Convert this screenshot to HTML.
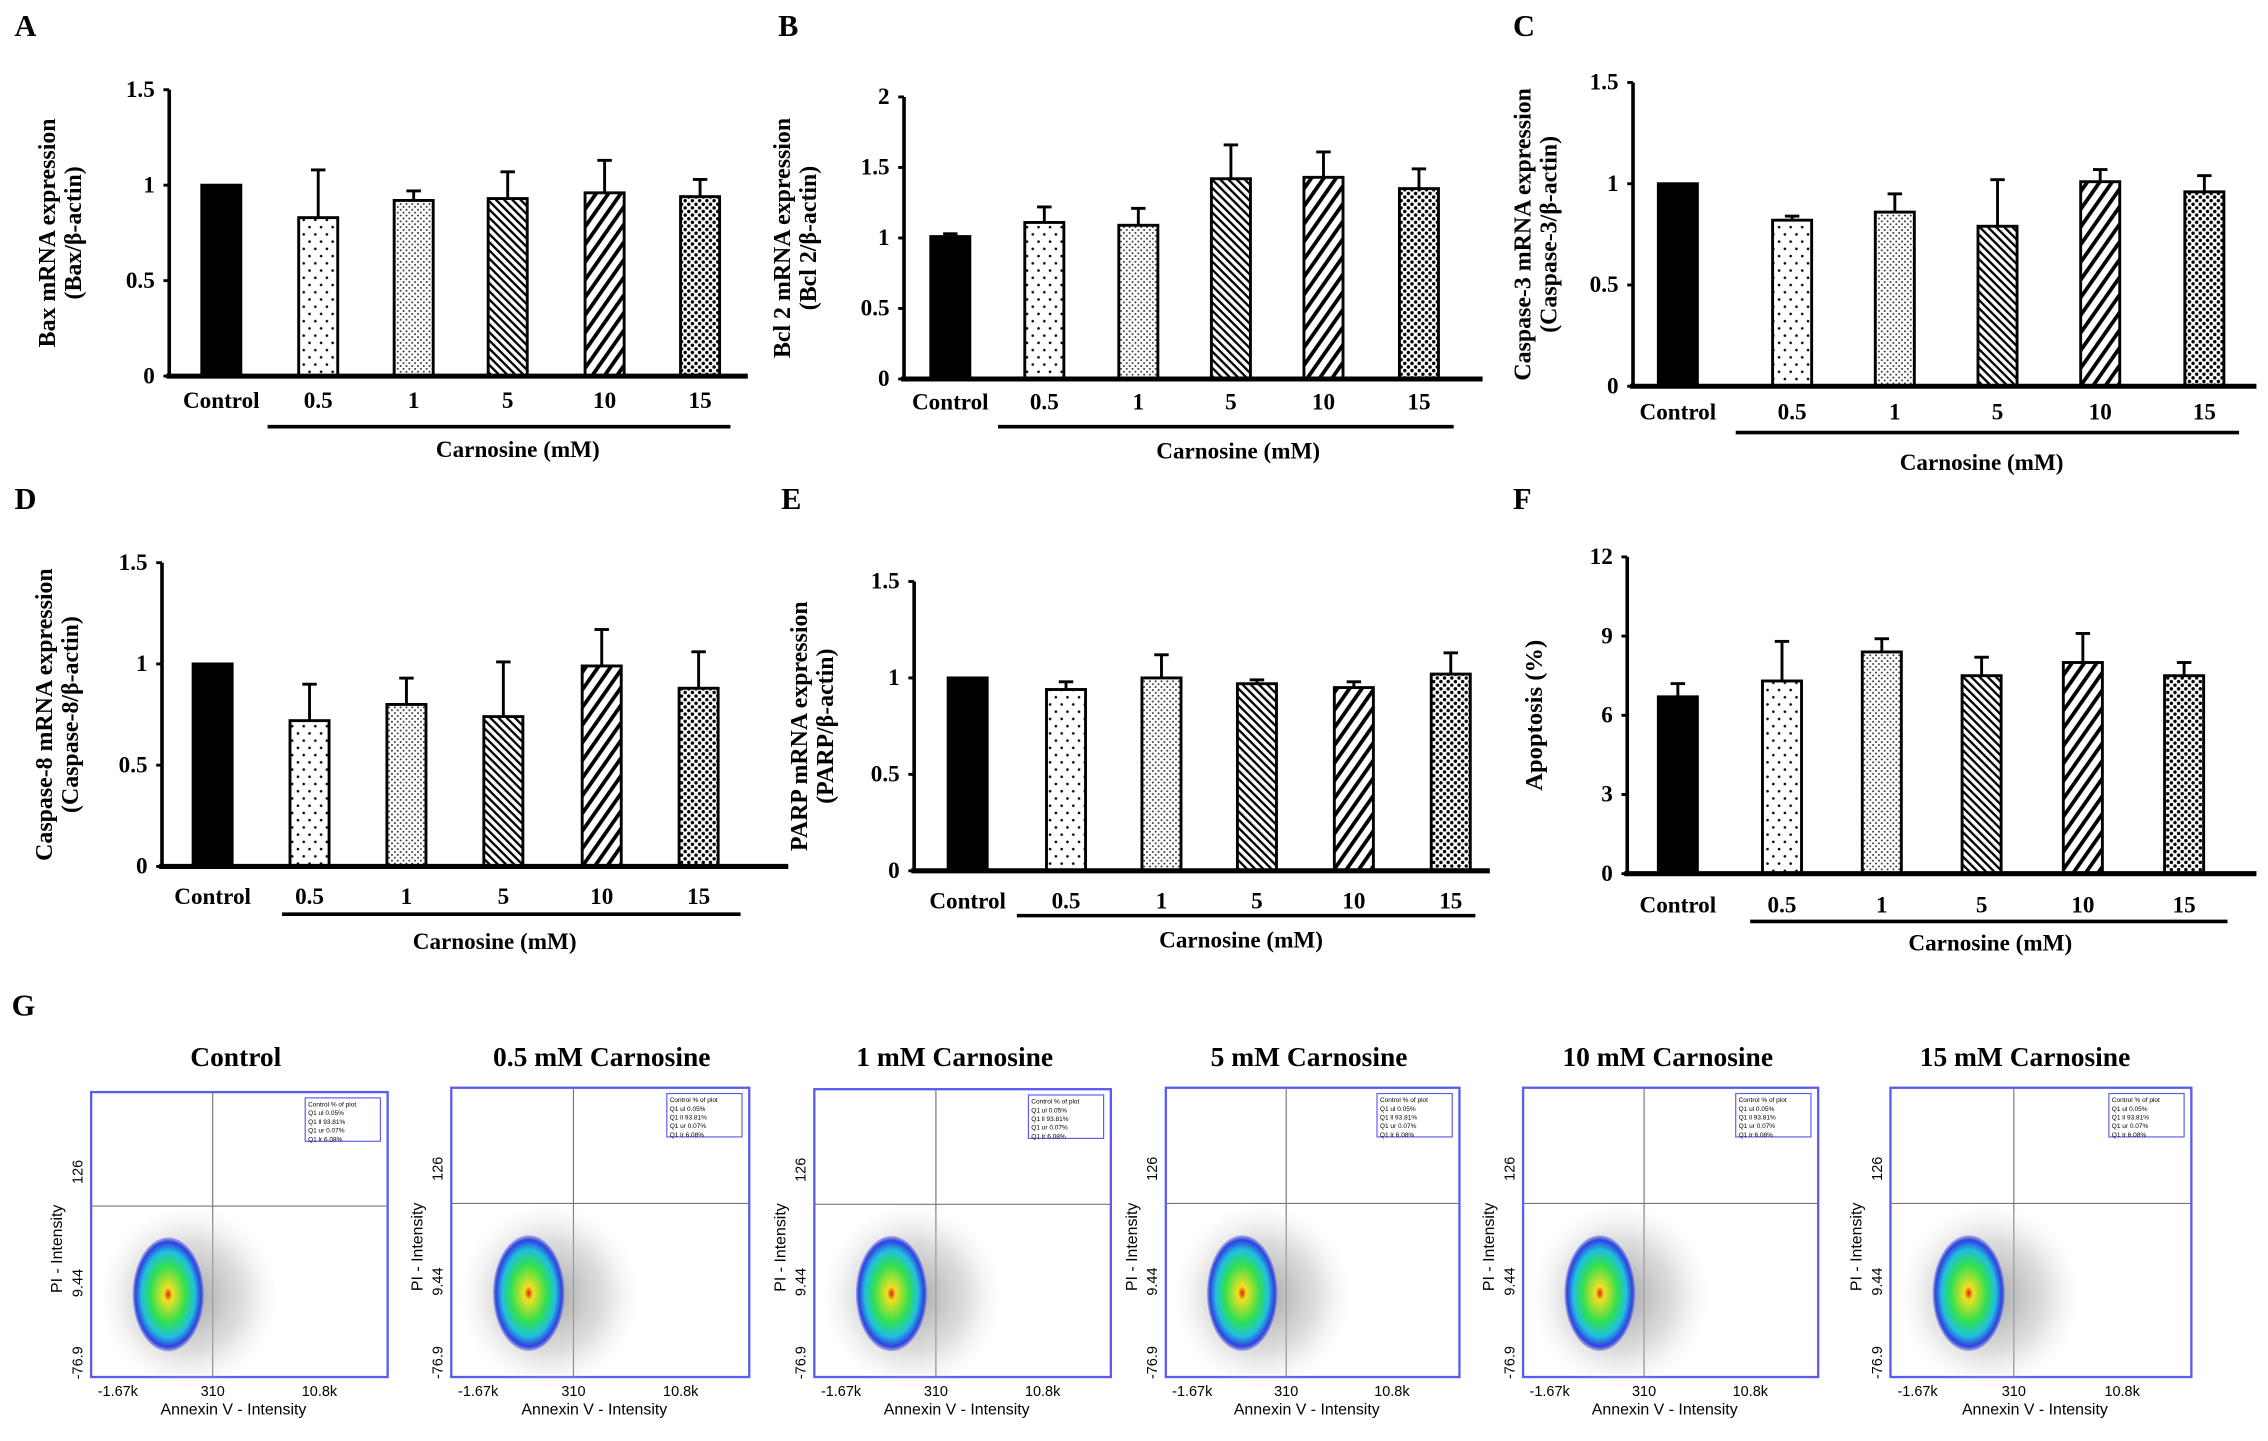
<!DOCTYPE html>
<html><head><meta charset="utf-8"><style>
html,body{margin:0;padding:0;background:#fff;}
svg{display:block;}
text{font-family:"Liberation Serif",serif;font-weight:bold;fill:#000;}
.sans{font-family:"Liberation Sans",sans-serif;font-weight:normal;}
</style></head><body>
<svg id="fig" width="2268" height="1441" viewBox="0 0 1568 996.2" xmlns="http://www.w3.org/2000/svg">
<defs>
<pattern id="p1" width="8" height="10" patternUnits="userSpaceOnUse"><rect width="8" height="10" fill="#fff"/><circle cx="2" cy="2" r="0.9" fill="#000"/><circle cx="6" cy="7" r="0.9" fill="#000"/></pattern>
<pattern id="p2" width="4" height="4" patternUnits="userSpaceOnUse"><rect width="4" height="4" fill="#fff"/><circle cx="1" cy="1" r="0.7" fill="#333"/><circle cx="3" cy="3" r="0.7" fill="#333"/></pattern>
<pattern id="p3" width="4" height="4" patternUnits="userSpaceOnUse" patternTransform="rotate(-45)"><rect width="4" height="4" fill="#fff"/><rect width="1.6" height="4" fill="#000"/></pattern>
<pattern id="p4" width="7" height="7" patternUnits="userSpaceOnUse" patternTransform="rotate(35)"><rect width="7" height="7" fill="#fff"/><rect width="2.6" height="7" fill="#000"/></pattern>
<pattern id="p5" width="5" height="5" patternUnits="userSpaceOnUse"><rect width="5" height="5" fill="#fff"/><circle cx="1.2" cy="1.2" r="1.2" fill="#000"/><circle cx="3.7" cy="3.7" r="1.2" fill="#000"/></pattern>
<radialGradient id="grey" cx="50%" cy="50%" r="50%"><stop offset="0" stop-color="#999" stop-opacity="0.9"/><stop offset="0.6" stop-color="#bbb" stop-opacity="0.5"/><stop offset="1" stop-color="#ddd" stop-opacity="0"/></radialGradient>
<radialGradient id="heat" cx="50%" cy="50%" r="50%"><stop offset="0" stop-color="#e02010"/><stop offset="0.12" stop-color="#f0e020"/><stop offset="0.5" stop-color="#30e050"/><stop offset="0.75" stop-color="#20c0e0"/><stop offset="0.92" stop-color="#3040e0"/><stop offset="1" stop-color="#3040e0" stop-opacity="0.3"/></radialGradient>
</defs>
</svg>
<script>
const categories=["Control","0.5","1","5","10","15"];
const valsA=[1,0.83,0.92,0.93,0.96,0.94], errA=[0,0.25,0.05,0.14,0.17,0.09];
const valsB=[1.01,1.11,1.09,1.42,1.43,1.35], errB=[0.02,0.11,0.12,0.24,0.18,0.14];
const valsC=[1,0.82,0.86,0.79,1.01,0.96], errC=[0,0.02,0.09,0.23,0.06,0.08];
const valsD=[1,0.72,0.80,0.74,0.99,0.88], errD=[0,0.18,0.13,0.27,0.18,0.18];
const valsE=[1,0.94,1.0,0.97,0.95,1.02], errE=[0,0.04,0.12,0.02,0.03,0.11];
const valsF=[6.7,7.3,8.4,7.5,8.0,7.5], errF=[0.5,1.5,0.5,0.7,1.1,0.5];
const ticks15=["0","0.5","1","1.5"], ticks2=["0","0.5","1","1.5","2"], ticks12=["0","3","6","9","12"];
const flowTitles=["Control","0.5 mM Carnosine","1 mM Carnosine","5 mM Carnosine","10 mM Carnosine","15 mM Carnosine"];

const NS="http://www.w3.org/2000/svg";
const svg=document.getElementById('fig');
function el(tag,attrs,parent,txt){const e=document.createElementNS(NS,tag);for(const k in attrs)e.setAttribute(k,attrs[k]);if(txt!==undefined)e.textContent=txt;(parent||svg).appendChild(e);return e;}
const fills=["#000","url(#p1)","url(#p2)","url(#p3)","url(#p4)","url(#p5)"];

const panels=[
 {id:"a",letter:"A",lx:10,ly:25,ax:117,top:62,zero:260,right:517,max:1.5,ticks:ticks15,bars:[153,220,286,351,418,484],vals:valsA,err:errA,cy:282,line:[185,505,295],cx:358,ccy:316,t1:"Bax mRNA expression",t2:"(Bax/β-actin)",tx:38},
 {id:"b",letter:"B",lx:538,ly:25,ax:625,top:67,zero:262,right:1025,max:2,ticks:ticks2,bars:[657,722,787,851,915,981],vals:valsB,err:errB,cy:283,line:[690,1005,295],cx:856,ccy:317,t1:"Bcl 2 mRNA expression",t2:"(Bcl 2/β-actin)",tx:546},
 {id:"c",letter:"C",lx:1046,ly:25,ax:1129,top:57,zero:267,right:1560,max:1.5,ticks:ticks15,bars:[1160,1239,1310,1381,1452,1524],vals:valsC,err:errC,cy:290,line:[1200,1548,299],cx:1370,ccy:325,t1:"Caspase-3 mRNA expression",t2:"(Caspase-3/β-actin)",tx:1058},
 {id:"d",letter:"D",lx:10,ly:352,ax:112,top:389,zero:599,right:545,max:1.5,ticks:ticks15,bars:[147,214,281,348,416,483],vals:valsD,err:errD,cy:625,line:[195,512,632],cx:342,ccy:656,t1:"Caspase-8 mRNA expression",t2:"(Caspase-8/β-actin)",tx:36},
 {id:"e",letter:"E",lx:540,ly:352,ax:632,top:402,zero:602,right:1030,max:1.5,ticks:ticks15,bars:[669,737,803,869,936,1003],vals:valsE,err:errE,cy:628,line:[703,1020,633],cx:858,ccy:655,t1:"PARP mRNA expression",t2:"(PARP/β-actin)",tx:558},
 {id:"f",letter:"F",lx:1046,ly:352,ax:1125,top:385,zero:604,right:1560,max:12,ticks:ticks12,bars:[1160,1232,1301,1370,1440,1510],vals:valsF,err:errF,cy:631,line:[1210,1540,637],cx:1376,ccy:657,t1:"Apoptosis  (%)",t2:null,tx:1066}
];
panels.forEach(p=>{
 const g=el('g',{});
 
 
 const L=el('text',{x:p.lx,y:p.ly,'font-size':21},g,p.letter);
 
 
 const y=v=>p.zero-(v/p.max)*(p.zero-p.top);
 const ya=el('line',{x1:p.ax,y1:p.top,x2:p.ax,y2:p.zero,stroke:'#000','stroke-width':2.5},g);
 
 
 p.ticks.forEach((t,i)=>{
  const v=p.max*i/(p.ticks.length-1);
  el('line',{x1:p.ax-4,y1:y(v),x2:p.ax,y2:y(v),stroke:'#000','stroke-width':2},g);
  const tl=el('text',{x:p.ax-10,y:y(v)+5,'font-size':16,'text-anchor':'end'},g,t);
  
  
 });
 const my=(p.top+p.zero)/2;
 if(p.t2){
  const t1=el('text',{x:p.tx,y:my,'font-size':16.5,'text-anchor':'middle',transform:`rotate(-90 ${p.tx} ${my})`},g,p.t1);
  
  
  const t2=el('text',{x:p.tx+18,y:my,'font-size':16.5,'text-anchor':'middle',transform:`rotate(-90 ${p.tx+18} ${my})`},g,p.t2);
  
  
 } else {
  const t1=el('text',{x:p.tx,y:my,'font-size':17,'text-anchor':'middle',transform:`rotate(-90 ${p.tx} ${my})`},g,p.t1);
  
  
 }
 p.vals.forEach((v,i)=>{
  const cx=p.bars[i], w=27, top=y(v);
  if(p.err[i]>0){
   const et=y(v+p.err[i]);
   el('line',{x1:cx,y1:top,x2:cx,y2:et,stroke:'#000','stroke-width':2},g);
   el('line',{x1:cx-5,y1:et,x2:cx+5,y2:et,stroke:'#000','stroke-width':2},g);
  }
  const b=el('rect',{x:cx-w/2,y:top,width:w,height:p.zero-top,fill:fills[i],stroke:'#000','stroke-width':2},g);
  
  
  const xl=el('text',{x:cx,y:p.cy,'font-size':16,'text-anchor':'middle'},g,categories[i]);
  
  
 });
 const xa=el('line',{x1:p.ax-2,y1:p.zero,x2:p.right,y2:p.zero,stroke:'#000','stroke-width':3.5},g);
 
 
 const gl=el('line',{x1:p.line[0],y1:p.line[2],x2:p.line[1],y2:p.line[2],stroke:'#000','stroke-width':2.5},g);
 
 
 const ct=el('text',{x:p.cx,y:p.ccy,'font-size':16,'text-anchor':'middle'},g,'Carnosine (mM)');
 
 
});

const GL=el('text',{x:8,y:702,'font-size':21},svg,'G');


const boxes=[[63,755,268,952],[312,752,518,952],[563,753,768,952],[806,752,1009,952],[1053,752,1257,952],[1307,752,1515,952]];
const titleX=[163,416,660,905,1153,1400];
boxes.forEach((bx,i)=>{
 const [x0,y0,x1,y1]=bx, w=x1-x0, h=y1-y0;
 const g=el('g',{});
 
 
 const t=el('text',{x:titleX[i],y:737,'font-size':19,'text-anchor':'middle'},g,flowTitles[i]);
 
 
 el('rect',{x:x0,y:y0,width:w,height:h,fill:'#fff',stroke:'#5b5bf0','stroke-width':1.6},g);
 const qx=x0+w*0.41, qy=y0+h*0.4;
 el('line',{x1:qx,y1:y0,x2:qx,y2:y1,stroke:'#777','stroke-width':0.8},g);
 el('line',{x1:x0,y1:qy,x2:x1,y2:qy,stroke:'#777','stroke-width':0.8},g);
 el('ellipse',{cx:x0+w*0.33,cy:y0+h*0.72,rx:w*0.3,ry:h*0.32,fill:'url(#grey)'},g);
 el('ellipse',{cx:x0+w*0.26,cy:y0+h*0.71,rx:w*0.12,ry:h*0.2,fill:'url(#heat)'},g);
 const lg=el('rect',{x:x1-57,y:y0+4,width:52,height:30,fill:'#fff',stroke:'#5b5bf0','stroke-width':0.8},g);
 
 
 ["Control  % of plot","Q1 ul   0.05%","Q1 ll   93.81%","Q1 ur   0.07%","Q1 lr   6.08%"].forEach((s,k)=>el('text',{x:x1-55,y:y0+10+k*6,'font-size':4.5,class:'sans',fill:'#333'},g,s));
 [["126",0.28],["9.44",0.67],["-76.9",0.95]].forEach(([s,f])=>{const yy=y0+h*f;el('text',{x:x0-6,y:yy,'font-size':10,class:'sans','text-anchor':'middle',transform:`rotate(-90 ${x0-6} ${yy})`},g,s);});
 [["-1.67k",0.09],["310",0.41],["10.8k",0.77]].forEach(([s,f])=>el('text',{x:x0+w*f,y:y1+13,'font-size':10,class:'sans','text-anchor':'middle'},g,s));
 const ax=el('text',{x:x0+w*0.48,y:y1+26,'font-size':11,class:'sans','text-anchor':'middle'},g,'Annexin V - Intensity');
 
 
 const yx=x0-20, yy=y0+h*0.55;
 const ay=el('text',{x:yx,y:yy,'font-size':11,class:'sans','text-anchor':'middle',transform:`rotate(-90 ${yx} ${yy})`},g,'PI - Intensity');
 
 
});
</script>
</body></html>
